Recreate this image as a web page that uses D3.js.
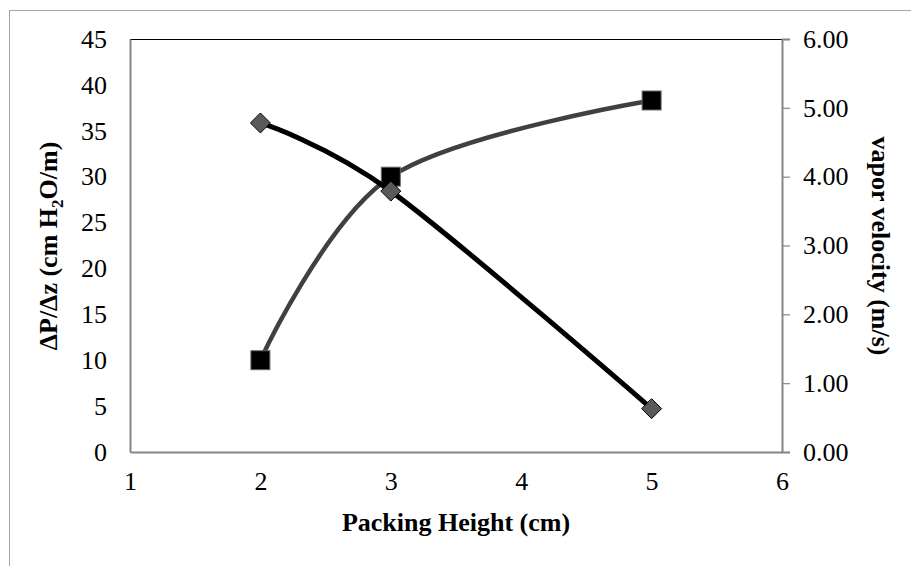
<!DOCTYPE html>
<html><head><meta charset="utf-8">
<script src="https://cdn.jsdelivr.net/npm/d3@7"></script>
<style>body{margin:0;background:#fff}svg{display:block}</style>
</head><body>
<svg id="c" width="911" height="566"></svg>
<script>
const packingHeight = [2, 3, 5];
const pressureDrop = [10, 30, 38.3];        // left axis, squares, gray line
const vaporVelocity = [4.78, 3.79, 0.63];   // right axis, diamonds, black line
const xTicks = [1, 2, 3, 4, 5, 6];
const leftTicks = [0, 5, 10, 15, 20, 25, 30, 35, 40, 45];
const rightTicks = [0, 1, 2, 3, 4, 5, 6];

const svg = d3.select("#c");
const L = 130, R = 782, T = 39, B = 452;
const x = d3.scaleLinear().domain([1, 6]).range([L, R]);
const yL = d3.scaleLinear().domain([0, 45]).range([B, T]);
const yR = d3.scaleLinear().domain([0, 6]).range([B, T]);
const font = "'Liberation Serif','Times New Roman',serif";

svg.append("rect").attr("x", 9.5).attr("y", 10.5).attr("width", 1000).attr("height", 1000)
  .attr("fill", "none").attr("stroke", "#a6a6a6").attr("stroke-width", 1);

// plot frame
svg.append("line").attr("x1", L).attr("x2", R).attr("y1", T + 0.5).attr("y2", T + 0.5).attr("stroke", "#000").attr("stroke-width", 1.2);

// axes
const gx = svg.append("g").attr("transform", `translate(0,${B})`)
  .call(d3.axisBottom(x).tickValues(xTicks).tickSize(0).tickPadding(20).tickFormat(d3.format("d")));
const gl = svg.append("g").attr("transform", `translate(${L},0)`)
  .call(d3.axisLeft(yL).tickValues(leftTicks).tickSize(0).tickPadding(23).tickFormat(d3.format("d")));
const gr = svg.append("g").attr("transform", `translate(${R},0)`)
  .call(d3.axisRight(yR).tickValues(rightTicks).tickSize(8).tickPadding(13).tickFormat(d3.format(".2f")));
[gx, gl, gr].forEach(g => {
  g.select(".domain").attr("stroke", "#868686").attr("stroke-width", 2);
  g.selectAll(".tick line").attr("stroke", "#868686").attr("stroke-width", 1.2);
  g.selectAll("text").attr("font-family", font).attr("font-size", 26).attr("fill", "#000");
});

// series: gray line + squares (left axis)
const curve = d3.curveCardinal.tension(0);
const pts1 = packingHeight.map((h, i) => [x(h), yL(pressureDrop[i])]);
const pts2 = packingHeight.map((h, i) => [x(h), yR(vaporVelocity[i])]);
svg.append("path").attr("d", d3.line().curve(curve)(pts1))
  .attr("fill", "none").attr("stroke", "#404040").attr("stroke-width", 4.5);
svg.selectAll(".sq").data(pts1).enter().append("rect")
  .attr("x", d => d[0] - 9.5).attr("y", d => d[1] - 9.5).attr("width", 19).attr("height", 19)
  .attr("fill", "#000").attr("stroke", "#6a6a6a").attr("stroke-width", 1);

// series: black line + diamonds (right axis)
svg.append("path").attr("d", d3.line().curve(curve)(pts2))
  .attr("fill", "none").attr("stroke", "#000").attr("stroke-width", 5);
svg.selectAll(".dm").data(pts2).enter().append("path")
  .attr("d", d => `M${d[0]},${d[1] - 10}L${d[0] + 10},${d[1]}L${d[0]},${d[1] + 10}L${d[0] - 10},${d[1]}Z`)
  .attr("fill", "#5a5a5a").attr("stroke", "#000").attr("stroke-width", 1);

// titles
svg.append("text").attr("x", (L + R) / 2).attr("y", 531).attr("text-anchor", "middle")
  .attr("font-family", font).attr("font-size", 26).attr("font-weight", "bold").text("Packing Height (cm)");

const lt = svg.append("text").attr("transform", "translate(57,246) rotate(-90)").attr("text-anchor", "middle")
  .attr("font-family", font).attr("font-size", 26).attr("font-weight", "bold");
lt.append("tspan").text("ΔP/Δz (cm H");
lt.append("tspan").attr("font-size", 17).attr("dy", 6).text("2");
lt.append("tspan").attr("dy", -6).text("O/m)");

svg.append("text").attr("transform", "translate(872,246) rotate(90)").attr("text-anchor", "middle")
  .attr("font-family", font).attr("font-size", 26).attr("font-weight", "bold").text("vapor velocity (m/s)");
</script>
</body></html>
